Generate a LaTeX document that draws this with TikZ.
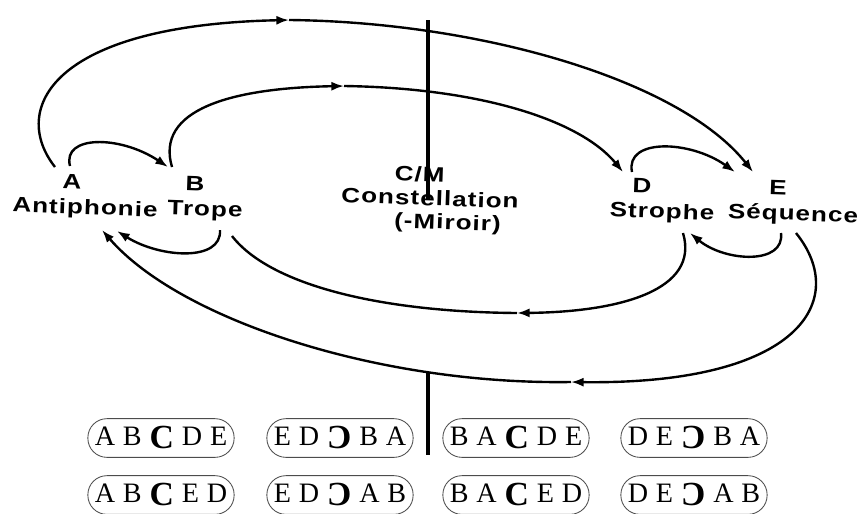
\documentclass[tikz,border=0pt]{standalone}
\usepackage{fontspec}
\usepackage{graphicx}
\setmainfont{Liberation Serif}
\newfontfamily\etiqfont[FakeStretch=1.25,LetterSpace=5]{Liberation Sans}
\usetikzlibrary{arrows.meta}
\newcommand{\Cgros}{\raisebox{-2pt}{\fontsize{24}{24}\selectfont\bfseries C}}
\newcommand{\Cinv}{\reflectbox{\Cgros}}
\newcommand{\ecart}{\hspace{0.28em}}
\tikzset{
    lettrenode/.style={
        inner sep=0,
        font=\etiqfont\bfseries\fontsize{14.8}{16.5}\selectfont, % 宽体无衬线
        rotate=-2
    },
    seqnode/.style={
        draw=black!70, % 细灰边框
        line width=0.6pt,
        rounded corners=13.5pt,
        minimum width=104pt,
        minimum height=27.5pt,
        text height=12.5pt,
        inner sep=0,
        font=\fontsize{20}{20}\selectfont
    },
    courbe/.style={
        line width=1.7pt,
        -{Latex[length=9pt,width=6.5pt]}
    },
    courbenue/.style={
        line width=1.7pt
    },
    axe/.style={
        line width=2.2pt
    }
}
\begin{document}
\begin{tikzpicture}[x=0.025cm,y=-0.025cm]
            \useasboundingbox (0,0) rectangle (864,514);
            % 标签
            \node[lettrenode] (A) at (72,182) {A};
            \node[lettrenode] (B) at (195,184) {B};
            \node[lettrenode] (D) at (642,186) {D};
            \node[lettrenode] (E) at (778,188) {E};
            \node[lettrenode] (antiph) at (85,209) {Antiphonie};
            \node[lettrenode] (trope) at (205,211) {Trope};
            \node[lettrenode] (strophe) at (662,213) {Strophe};
            \node[lettrenode] (sequence) at (793,215) {Séquence};
            \node[lettrenode, align=center] (CM) at (430,200)
                {C/M\hspace*{16pt}\\Constellation\\\hspace*{26pt}(-Miroir)};
            % 端点
            \coordinate (Ao) at (55,167);
            \coordinate (Ai) at (70,166);
            \coordinate (Bi) at (168,167);
            \coordinate (Bo) at (172,167);
            \coordinate (Di) at (623,172);
            \coordinate (Do) at (632,172);
            \coordinate (Ei) at (735,172);
            \coordinate (Eo) at (753,172);
            \coordinate (Bb) at (220,230);
            \coordinate (Ab) at (117,231);
            \coordinate (Bbi) at (232,236);
            \coordinate (Abo) at (102,230);
            \coordinate (Dbi) at (683,233);
            \coordinate (Dbs) at (690,233);
            \coordinate (Ebs) at (781,233);
            \coordinate (Ebo) at (796,233);
            \coordinate (hautO) at (289,20);
            \coordinate (hautI) at (344,86);
            \coordinate (basI) at (517,313);
            \coordinate (basO) at (571,382);
            \coordinate (axeH1) at (428,20);
            \coordinate (axeH2) at (428,200);
            \coordinate (axeB1) at (428,372);
            \coordinate (axeB2) at (428,455);
            % 上方弧线
            \draw[courbe] (Ao) .. controls (10,110) and (50,25) .. (hautO);
            \draw[courbe] (hautO) .. controls (480,22) and (680,80) .. (Eo);
            \draw[courbe] (Bo) .. controls (155,110) and (230,88) .. (hautI);
            \draw[courbe] (hautI) .. controls (480,88) and (580,120) .. (Di);
            \draw[courbe] (Ai) .. controls (62,135) and (120,135) .. (Bi);
            \draw[courbe] (Do) .. controls (625,138) and (690,140) .. (Ei);
            % 下方弧线
            \draw[courbe] (Bb) .. controls (222,262) and (160,258) .. (Ab);
            \draw[courbe] (Dbi) .. controls (700,290) and (620,312) .. (basI);
            \draw[courbenue] (basI) .. controls (380,312) and (270,285) .. (Bbi);
            \draw[courbe] (Ebo) .. controls (850,300) and (800,385) .. (basO);
            \draw[courbe] (basO) .. controls (380,385) and (180,320) .. (Abo);
            \draw[courbe] (Ebs) .. controls (785,265) and (725,262) .. (Dbs);
            % 轴
            \draw[axe] (axeH1) -- (axeH2);
            \draw[axe] (axeB1) -- (axeB2);
            % 序列
            \node[seqnode] (s1) at (161,438) {A\ecart B\ecart\Cgros\ecart D\ecart E};
            \node[seqnode] (s2) at (340,438) {E\ecart D\ecart\Cinv\ecart B\ecart A};
            \node[seqnode] (s3) at (516,438) {B\ecart A\ecart\Cgros\ecart D\ecart E};
            \node[seqnode] (s4) at (694,438) {D\ecart E\ecart\Cinv\ecart B\ecart A};
            \node[seqnode] (s5) at (161,495) {A\ecart B\ecart\Cgros\ecart E\ecart D};
            \node[seqnode] (s6) at (340,495) {E\ecart D\ecart\Cinv\ecart A\ecart B};
            \node[seqnode] (s7) at (516,495) {B\ecart A\ecart\Cgros\ecart E\ecart D};
            \node[seqnode] (s8) at (694,495) {D\ecart E\ecart\Cinv\ecart A\ecart B};
\end{tikzpicture}
\end{document}
